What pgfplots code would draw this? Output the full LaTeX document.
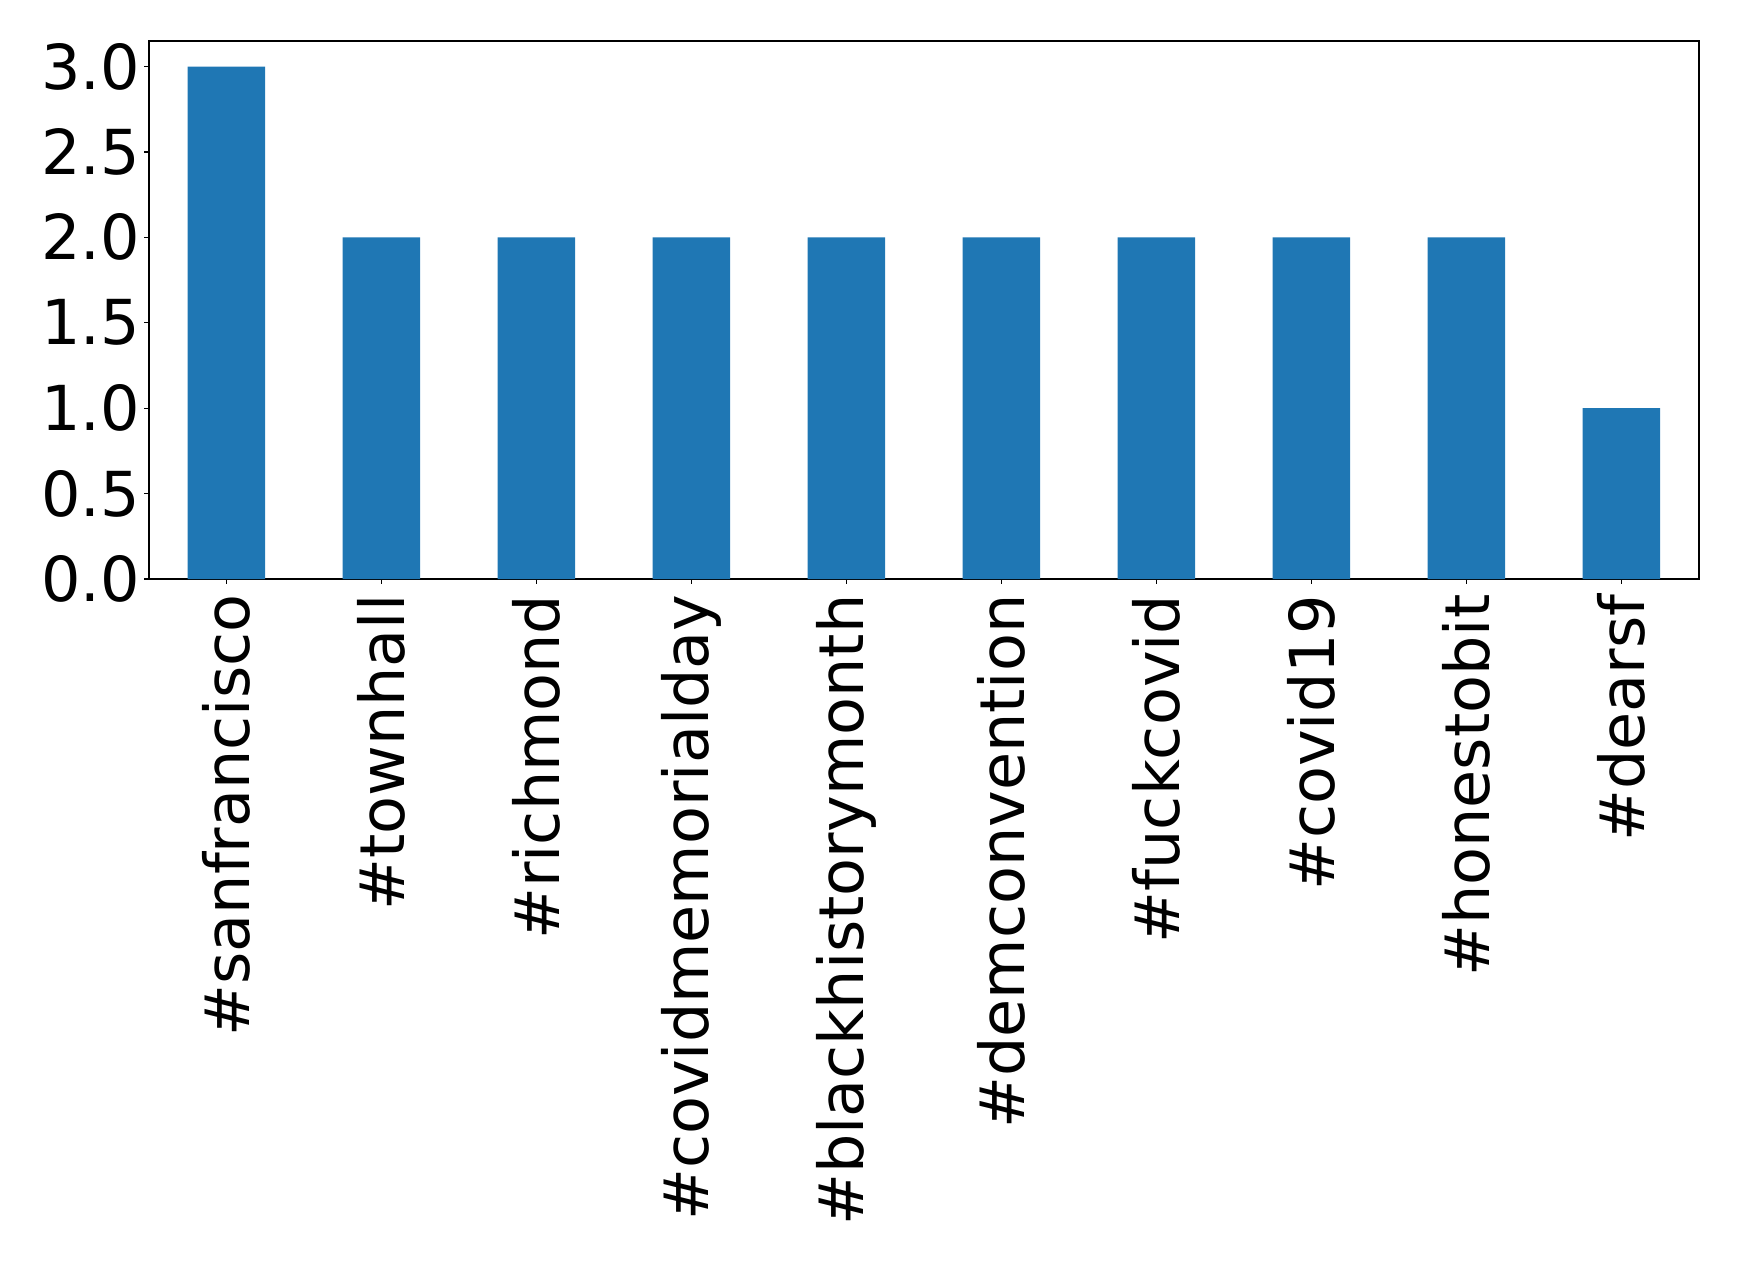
\documentclass[border=0pt]{standalone}
\usepackage{pgfplots}
\pgfplotsset{compat=1.18}
\usepackage{fontspec}
\setmainfont{DejaVu Sans}
\definecolor{mplblue}{HTML}{1F77B4}
\begin{document}
\begin{tikzpicture}
\path[use as bounding box] (-37.25pt,-171.25pt) rectangle (397.5pt,144.75pt);
\begin{axis}[
  at={(0,0)}, anchor=south west,
  scale only axis,
  width=387.5pt, height=134.5pt,
  xmin=-0.5, xmax=9.5,
  ymin=0, ymax=3.15,
  xtick={0,...,9},
  xticklabels={\#sanfrancisco,\#townhall,\#richmond,\#covidmemorialday,\#blackhistorymonth,\#demconvention,\#fuckcovid,\#covid19,\#honestobit,\#dearsf},
  ytick={0,0.5,1,1.5,2,2.5,3},
  yticklabel style={/pgf/number format/.cd,fixed,fixed zerofill,precision=1,/tikz/.cd, xshift=2.4pt},
  /pgf/number format/assume math mode=true,
  tick label style={font=\fontsize{15.5}{18.5}\selectfont},
  xticklabel style={rotate=90, anchor=east, xshift=0.8pt, yshift=0pt},
  tick align=outside,
  tick pos=left,
  major tick length=1.2pt,
  axis line style={line width=0.3pt},
  every tick/.style={black, line width=0.3pt},
  ybar, bar width=0.5,
  axis on top=false,
]
\addplot[fill=mplblue, draw=none, bar shift=0pt] coordinates {
(0,3) (1,2) (2,2) (3,2) (4,2) (5,2) (6,2) (7,2) (8,2) (9,1)};
\end{axis}
\end{tikzpicture}
\end{document}
